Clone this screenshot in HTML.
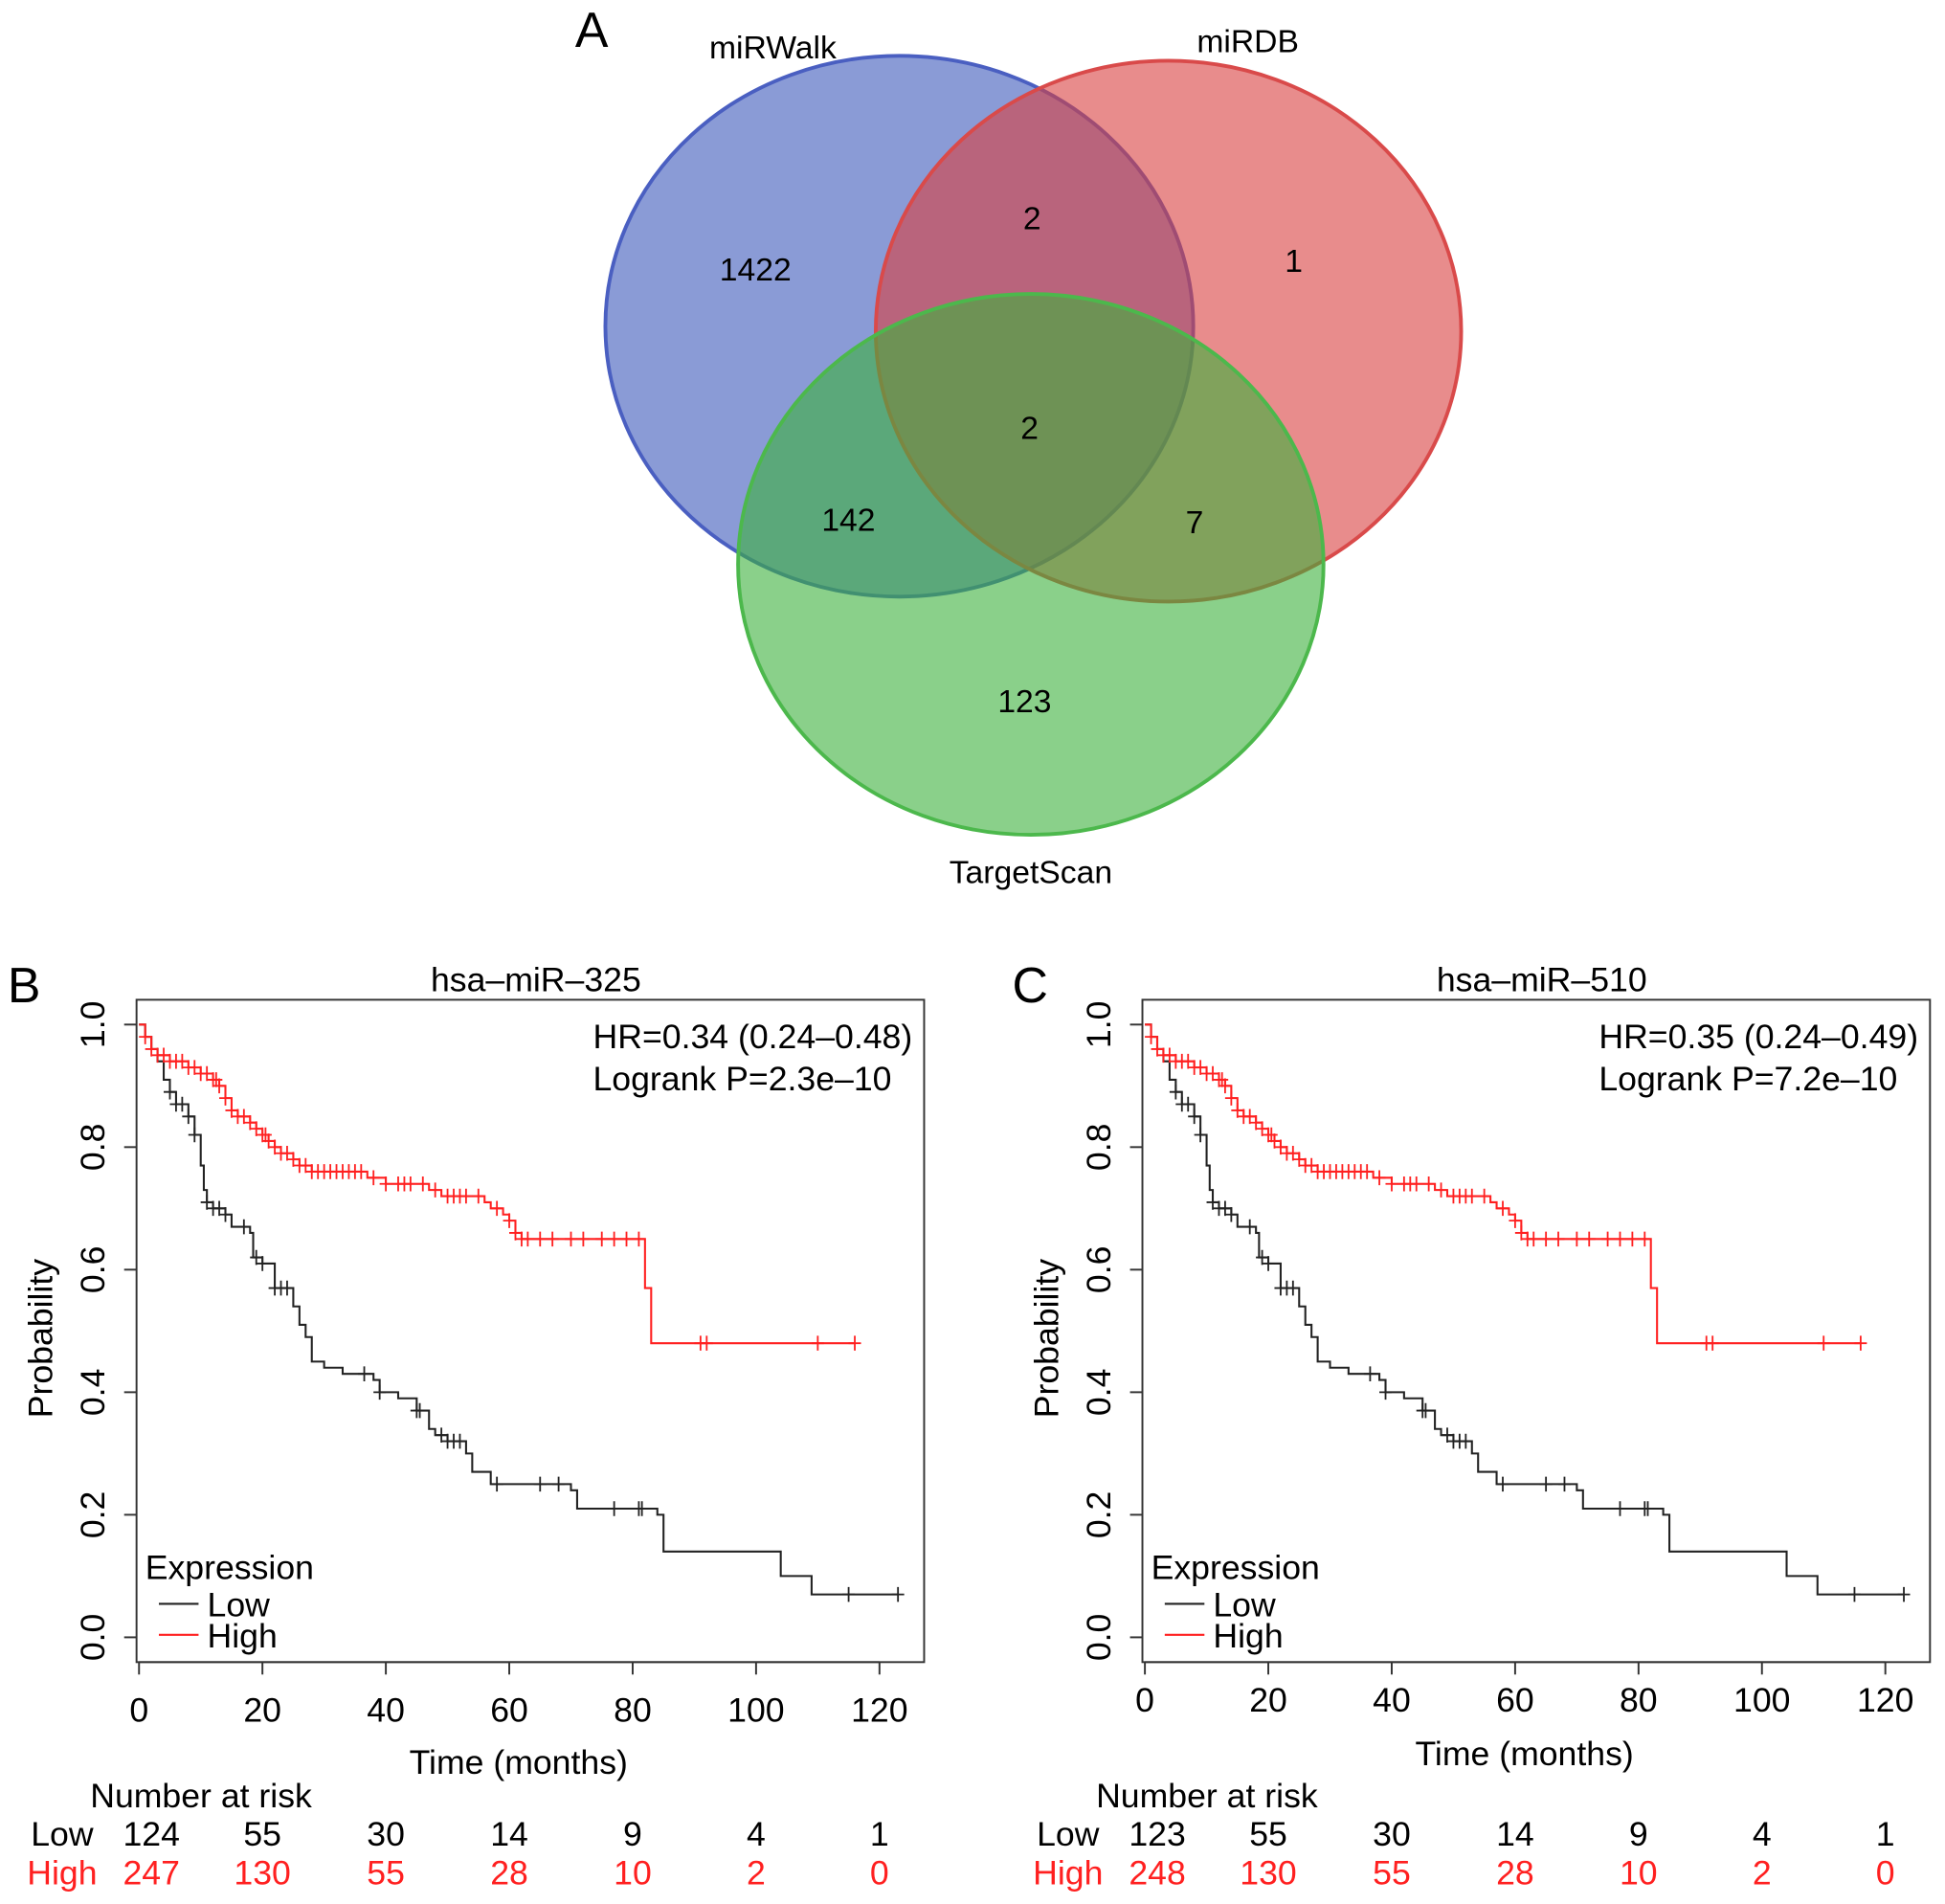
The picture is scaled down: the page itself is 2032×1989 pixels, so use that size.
<!DOCTYPE html>
<html><head><meta charset="utf-8"><style>
html,body{margin:0;padding:0;background:#fff}
svg{display:block}
text{font-family:"Liberation Sans",sans-serif}
</style></head><body>
<svg id="fig" width="2032" height="1989" viewBox="0 0 1568 1535" xmlns="http://www.w3.org/2000/svg">
<g>
<ellipse cx="725" cy="263" rx="237" ry="218" fill="rgb(60,88,187)" fill-opacity="0.6" stroke="#4a5fc1" stroke-width="3"/>
<ellipse cx="942" cy="267" rx="236" ry="218" fill="rgb(217,63,63)" fill-opacity="0.6" stroke="#d94a4a" stroke-width="3"/>
<ellipse cx="831" cy="455" rx="236" ry="218" fill="rgb(60,177,60)" fill-opacity="0.6" stroke="#4cb84c" stroke-width="3"/>
<text x="477" y="38" font-size="40" text-anchor="middle">A</text>
<g font-size="26" text-anchor="middle">
<text x="623" y="47">miRWalk</text>
<text x="1006" y="42">miRDB</text>
<text x="831" y="712">TargetScan</text>
<text x="609" y="226">1422</text>
<text x="832" y="185">2</text>
<text x="1043" y="219">1</text>
<text x="830" y="354">2</text>
<text x="684" y="428">142</text>
<text x="963" y="430">7</text>
<text x="826" y="574">123</text>
</g>
</g>
<g id="panelB"></g>
<g id="panelC"></g>
</svg>
<script>
const xTicks=[0,20,40,60,80,100,120];
const yTicks=[0.0,0.2,0.4,0.6,0.8,1.0];
const lowTimes=[0,1,2,3,4,5,6,8,9,10,10.5,11,12,14,15,18,18.5,20,22,25,26,27,28,30,33,38,39,42,45,47,48,50,53,54,57,70,71,84,85,104,109];
const lowSurv=[1,0.98,0.96,0.94,0.91,0.89,0.87,0.85,0.82,0.77,0.73,0.71,0.70,0.69,0.67,0.66,0.62,0.61,0.57,0.54,0.51,0.49,0.45,0.44,0.43,0.42,0.40,0.39,0.37,0.34,0.33,0.32,0.30,0.27,0.25,0.24,0.21,0.20,0.14,0.10,0.07];
const lowEnd=123;
const lowCensor=[5,6,7,8,9,11,12,13,14,17,19,20,22,23,24,36.5,39,45,45.5,49,50,51,52,58,65,68,77,81,81.5,115,123];
const highTimes=[0,1,2,3,5,8,10,12,13,14,15,16,18,19,20,21,22,23,25,26,28,37,40,47,49,56,57,59,60,61,62,82,83];
const highSurv=[1,0.98,0.96,0.95,0.94,0.93,0.92,0.91,0.90,0.88,0.86,0.85,0.84,0.83,0.82,0.81,0.80,0.79,0.78,0.77,0.76,0.75,0.74,0.73,0.72,0.71,0.70,0.69,0.68,0.66,0.65,0.57,0.48];
const highEnd=116;
const highCensor=[1,2,3,4,5,6,7,8,9,10,11,12,12.5,13,14,15,16,17,18,19,20,20.5,21,22,23,24,25,26,27,28,29,30,31,32,33,34,35,36,38,40,42,43,44,46,48,50,51,52,53,55,58,60,61,62,63,65,67,70,72,75,77,79,81,91,92,110,116];
const riskTimes=[0,20,40,60,80,100,120];
const riskLowB=[124,55,30,14,9,4,1];
const riskHighB=[247,130,55,28,10,2,0];
const riskLowC=[123,55,30,14,9,4,1];
const riskHighC=[248,130,55,28,10,2,0];
const NS='http://www.w3.org/2000/svg';
const FS=27.5;
function mk(p,tag,at,txt){const e=document.createElementNS(NS,tag);for(const k in at)e.setAttribute(k,at[k]);if(txt!==undefined)e.textContent=txt;p.appendChild(e);return e;}
function survAt(ts,ss,t){let s=ss[0];for(let i=0;i<ts.length;i++){if(ts[i]<=t)s=ss[i];}return s;}
function panel(g,o){
 const L=o.left,R=L+635,T=806,B=1340;
 const X=t=>L+2+t*(597/120), Y=v=>1320-v*494;
 let e=mk(g,'rect',{x:L,y:T,width:R-L,height:B-T,fill:'none',stroke:'#333','stroke-width':1.5});
 
 e=mk(g,'text',{x:o.letterX,y:808,'font-size':40},o.letter);
 
 e=mk(g,'text',{x:L+322,y:799,'font-size':FS,'text-anchor':'middle'},o.title);
 
 xTicks.forEach(t=>{mk(g,'line',{x1:X(t),x2:X(t),y1:B,y2:B+10,stroke:'#333','stroke-width':1.5});
  e=mk(g,'text',{x:X(t),y:o.xlabY,'font-size':FS,'text-anchor':'middle'},String(t));
  });
 mk(g,'line',{x1:X(0),x2:X(120),y1:B,y2:B,stroke:'#333','stroke-width':1.5});
 yTicks.forEach(v=>{mk(g,'line',{x1:L-10,x2:L,y1:Y(v),y2:Y(v),stroke:'#333','stroke-width':1.5});
  e=mk(g,'text',{x:L-26,y:Y(v),'font-size':FS,'text-anchor':'middle',transform:`rotate(-90 ${L-26} ${Y(v)})`},v.toFixed(1));
  });
 e=mk(g,'text',{x:L-77,y:1070,'font-size':FS,'text-anchor':'middle',transform:`rotate(-90 ${L-68} 1070)`},'Probability');
 
 e=mk(g,'text',{x:L+308,y:o.xtitleY,'font-size':FS,'text-anchor':'middle'},'Time (months)');
 
 e=mk(g,'text',{x:L+368,y:845,'font-size':FS},o.hr);
 
 e=mk(g,'text',{x:L+368,y:879,'font-size':FS},o.p);
 
 function curve(ts,ss,end,cens,col,name){
  let d=`M${X(ts[0])},${Y(ss[0])}`;
  for(let i=1;i<ts.length;i++){d+=`H${X(ts[i])}V${Y(ss[i])}`;}
  d+=`H${X(end)}`;
  let p=mk(g,'path',{d:d,fill:'none',stroke:col,'stroke-width':1.6});
  
  cens.forEach(t=>{const cx=X(t),cy=Y(survAt(ts,ss,t));
   let c=mk(g,'path',{d:`M${cx-5},${cy}H${cx+5}M${cx},${cy-6}V${cy+6}`,stroke:col,'stroke-width':1.4});
   });
 }
 curve(lowTimes,lowSurv,lowEnd,lowCensor,'#222','low');
 curve(highTimes,highSurv,highEnd,highCensor,'#ff2020','high');
 e=mk(g,'text',{x:L+7,y:1273,'font-size':FS},'Expression');
 
 mk(g,'line',{x1:L+18,x2:L+50,y1:1293,y2:1293,stroke:'#222','stroke-width':1.6});
 e=mk(g,'text',{x:L+57,y:1303,'font-size':FS},'Low');
 
 mk(g,'line',{x1:L+18,x2:L+50,y1:1318,y2:1318,stroke:'#ff2020','stroke-width':1.6});
 e=mk(g,'text',{x:L+57,y:1328,'font-size':FS},'High');
 
 e=mk(g,'text',{x:L+52,y:1457,'font-size':FS,'text-anchor':'middle'},'Number at risk');
 
 e=mk(g,'text',{x:L-60,y:1488,'font-size':FS,'text-anchor':'middle'},'Low');
 
 e=mk(g,'text',{x:L-60,y:1519,'font-size':FS,'text-anchor':'middle',fill:'#ff2020'},'High');
 
 riskTimes.forEach((t,i)=>{const cx=X(t)+(i===0?10:0);
  let a=mk(g,'text',{x:cx,y:1488,'font-size':FS,'text-anchor':'middle'},String(o.rl[i]));
  
  let b=mk(g,'text',{x:cx,y:1519,'font-size':FS,'text-anchor':'middle',fill:'#ff2020'},String(o.rh[i]));
  });
}
panel(document.getElementById('panelB'),{left:110,letter:'B',letterX:6,title:'hsa\u2013miR\u2013325',hr:'HR=0.34 (0.24\u20130.48)',p:'Logrank P=2.3e\u201310',xlabY:1388,xtitleY:1430,rl:riskLowB,rh:riskHighB});
panel(document.getElementById('panelC'),{left:921,letter:'C',letterX:816,title:'hsa\u2013miR\u2013510',hr:'HR=0.35 (0.24\u20130.49)',p:'Logrank P=7.2e\u201310',xlabY:1380,xtitleY:1423,rl:riskLowC,rh:riskHighC});
</script>
</body></html>
